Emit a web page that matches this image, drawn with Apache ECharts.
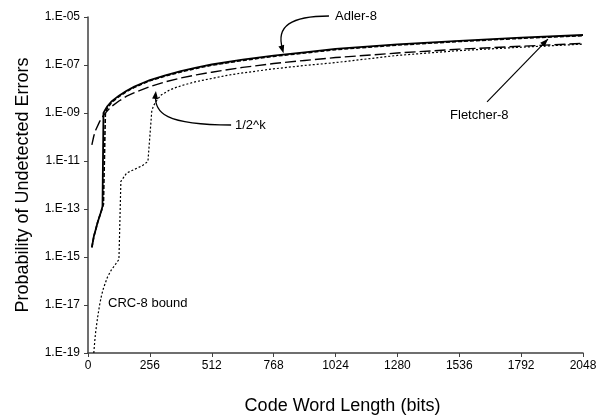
<!DOCTYPE html>
<html><head><meta charset="utf-8">
<script src="https://cdn.jsdelivr.net/npm/echarts@6/dist/echarts.min.js"></script>
<style>html,body{margin:0;padding:0;background:#fff}#c{width:597px;height:419px}</style>
</head><body><div id="c"></div>
<script>
// ---- data ----
const xTicks = [0, 256, 512, 768, 1024, 1280, 1536, 1792, 2048];
const yTicks = [1e-19, 1e-17, 1e-15, 1e-13, 1e-11, 1e-9, 1e-7, 1e-5];

const adlerLen  = [16, 24, 32, 40, 48, 56, 60, 64, 72, 80, 96, 112, 128, 160, 192, 224, 256, 320, 384, 448, 512, 640, 768, 896, 1024, 1280, 1536, 1792, 2048];
const adlerProb = [2.51e-15, 7.08e-15, 1.41e-14, 2.82e-14, 5.01e-14, 8.91e-14, 1.32e-13, 1.0e-9, 1.41e-9, 1.91e-9, 2.95e-9, 3.98e-9, 5.25e-9, 8.51e-9, 1.26e-8, 1.74e-8, 2.34e-8, 3.72e-8, 5.5e-8, 7.76e-8, 1.05e-7, 1.66e-7, 2.45e-7, 3.39e-7, 4.68e-7, 7.24e-7, 1.02e-6, 1.38e-6, 1.78e-6];

const fletcherLen  = [16, 24, 32, 40, 48, 56, 64, 68, 72, 80, 96, 112, 128, 160, 192, 224, 256, 320, 384, 448, 512, 640, 768, 896, 1024, 1280, 1536, 1792, 2048];
const fletcherProb = [2.51e-15, 7.08e-15, 1.41e-14, 2.82e-14, 5.01e-14, 8.91e-14, 1.58e-13, 1.91e-13, 1.05e-9, 1.58e-9, 2.63e-9, 3.63e-9, 4.79e-9, 7.94e-9, 1.17e-8, 1.62e-8, 2.19e-8, 3.47e-8, 5.13e-8, 7.24e-8, 9.77e-8, 1.55e-7, 2.29e-7, 3.16e-7, 4.37e-7, 6.76e-7, 9.55e-7, 1.29e-6, 1.66e-6];

const halfKLen  = [16, 24, 32, 48, 64, 80, 96, 128, 160, 192, 256, 320, 384, 448, 512, 640, 768, 896, 1024, 1280, 1536, 1792, 2048];
const halfKProb = [4.68e-11, 1.10e-10, 1.95e-10, 4.37e-10, 7.94e-10, 1.23e-9, 1.82e-9, 3.16e-9, 5.01e-9, 7.08e-9, 1.26e-8, 2.0e-8, 2.88e-8, 3.89e-8, 5.01e-8, 7.94e-8, 1.15e-7, 1.55e-7, 2.04e-7, 3.16e-7, 4.57e-7, 6.03e-7, 7.94e-7];

const crcLen  = [24, 28, 32, 40, 48, 56, 64, 80, 96, 112, 128, 136, 160, 192, 224, 248, 256, 264, 272, 288, 304, 336, 368, 400, 448, 512, 576, 640, 768, 896, 1024, 1280, 1536, 1792, 2048];
const crcProb = [1e-19, 3.16e-19, 7.94e-19, 3.16e-18, 1e-17, 2.51e-17, 5.01e-17, 1.41e-16, 2.82e-16, 4.68e-16, 7.94e-16, 1.41e-12, 3.16e-12, 4.47e-12, 6.31e-12, 9.55e-12, 1.10e-11, 1.26e-9, 2.09e-9, 3.80e-9, 5.75e-9, 8.91e-9, 1.20e-8, 1.51e-8, 2.04e-8, 2.75e-8, 3.72e-8, 4.68e-8, 6.92e-8, 9.55e-8, 1.26e-7, 2.51e-7, 3.98e-7, 5.5e-7, 7.41e-7];

const seriesNames = ['Adler-8', 'Fletcher-8', '1/2^k', 'CRC-8 bound'];
const xTitle = 'Code Word Length (bits)';
const yTitle = 'Probability of Undetected Errors';

// ---- chart ----
const FONT = '"Liberation Sans", Arial, sans-serif';
const chart = echarts.init(document.getElementById('c'), null, {renderer: 'canvas'});
const pairs = (a, b) => a.map((v, i) => [v, b[i]]);
function yLabel(v) {
  const e = Math.round(Math.log10(v));
  return '1.E' + (e < 0 ? '-' : '+') + String(Math.abs(e)).padStart(2, '0');
}
function lineSeries(name, len, prob, width, type, z) {
  return {
    name, type: 'line', data: pairs(len, prob), symbol: 'none', showSymbol: false,
    smooth: false, z, silent: true,
    lineStyle: {color: '#000', width, type}
  };
}
const axisColor = '#404040';
chart.setOption({
  animation: false,
  backgroundColor: '#fff',
  grid: {left: 88, right: 14, top: 17, bottom: 66, containLabel: false, outerBoundsMode: 'none'},
  xAxis: {
    type: 'value', min: xTicks[0], max: xTicks[xTicks.length - 1], interval: 256,
    name: xTitle, nameLocation: 'middle', nameGap: 44,
    nameTextStyle: {fontFamily: FONT, fontSize: 18, color: '#000', padding: [0, 0, 0, 14]},
    axisLine: {lineStyle: {color: axisColor, width: 1.5}},
    axisTick: {show: true, length: 4, inside: false, lineStyle: {color: axisColor, width: 1}},
    axisLabel: {fontFamily: FONT, fontSize: 12, color: '#000', margin: 7, formatter: v => String(v)},
    splitLine: {show: false}
  },
  yAxis: {
    type: 'log', logBase: 10, min: yTicks[0], max: yTicks[yTicks.length - 1],
    name: yTitle, nameLocation: 'middle', nameGap: 56,
    nameTextStyle: {fontFamily: FONT, fontSize: 18, color: '#000'},
    axisLine: {show: true, lineStyle: {color: axisColor, width: 1.5}},
    axisTick: {show: true, length: 4, inside: false, customValues: yTicks, lineStyle: {color: axisColor, width: 1}},
    axisLabel: {fontFamily: FONT, fontSize: 12, color: '#000', margin: 8, customValues: yTicks, formatter: yLabel},
    splitLine: {show: false}, minorTick: {show: false}
  },
  series: [
    lineSeries(seriesNames[3], crcLen, crcProb, 1.2, [2, 2], 2),
    lineSeries(seriesNames[2], halfKLen, halfKProb, 1.4, [11, 4], 3),
    lineSeries(seriesNames[1], fletcherLen, fletcherProb, 1.6, [4, 2], 4),
    lineSeries(seriesNames[0], adlerLen, adlerProb, 1.8, 'solid', 5)
  ]
});

// ---- annotations (anchored in data coordinates) ----
const P = (x, y) => chart.convertToPixel({xAxisIndex: 0, yAxisIndex: 0}, [x, y]);
function arrowHead(tip, from, len, wid) {
  const dx = tip[0] - from[0], dy = tip[1] - from[1];
  const d = Math.hypot(dx, dy) || 1, ux = dx / d, uy = dy / d;
  const bx = tip[0] - ux * len, by = tip[1] - uy * len;
  return {type: 'polygon', silent: true, z: 20,
    shape: {points: [tip, [bx - uy * wid / 2, by + ux * wid / 2], [bx + uy * wid / 2, by - ux * wid / 2]]},
    style: {fill: '#000'}};
}
function curve(p0, c1, c2, p1) {
  return {type: 'bezierCurve', silent: true, z: 20,
    shape: {x1: p0[0], y1: p0[1], cpx1: c1[0], cpy1: c1[1], cpx2: c2[0], cpy2: c2[1], x2: p1[0], y2: p1[1]},
    style: {stroke: '#000', lineWidth: 1.3, fill: null}};
}
function label(text, p) {
  return {type: 'text', silent: true, z: 20, x: p[0], y: p[1],
    style: {text, fontFamily: FONT, fontSize: 13, fill: '#000', align: 'left', verticalAlign: 'middle'}};
}
const g = [];
// Adler-8
{
  const a0 = P(997, 1.10e-5), a1 = P(840, 1.10e-5), a2 = P(776, 4.2e-6), a3 = P(805, 4.6e-7), tip = P(809, 3.1e-7);
  g.push(curve(a0, a1, a2, a3), arrowHead(tip, a2, 8, 6), label(seriesNames[0], P(1022, 1.08e-5)));
}
// 1/2^k
{
  const b0 = P(592, 3.16e-10), b1 = P(320, 3.16e-10), b2 = P(272, 1.0e-9), b3 = P(280, 6.0e-9), tip = P(281, 8.3e-9);
  g.push(curve(b0, b1, b2, b3), arrowHead(tip, b2, 8, 6), label(seriesNames[2], P(608, 3.16e-10)));
}
// Fletcher-8
{
  const c0 = P(1651, 2.9e-9), tip = P(1903, 1.2e-6);
  g.push({type: 'line', silent: true, z: 20, shape: {x1: c0[0], y1: c0[1], x2: tip[0], y2: tip[1]}, style: {stroke: '#000', lineWidth: 1.2}},
    arrowHead(tip, c0, 8, 6), label(seriesNames[1], P(1498, 8.3e-10)));
}
// CRC-8 bound
g.push(label(seriesNames[3], P(83, 1.2e-17)));
chart.setOption({graphic: {elements: g}});
</script>
</body></html>
